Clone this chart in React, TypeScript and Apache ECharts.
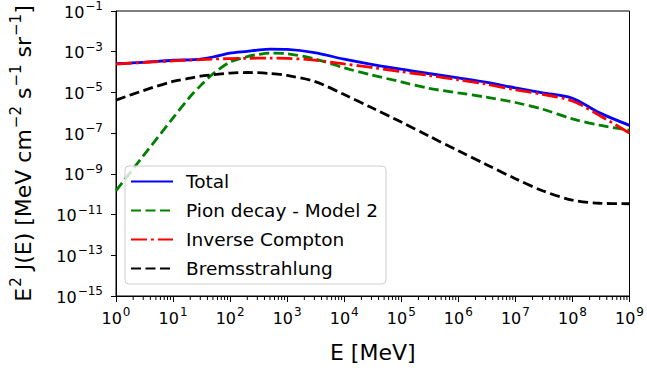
import React, { useEffect, useRef } from 'react';
import * as echarts from 'echarts';

// Energy grid (MeV) and E^2 J(E) values [MeV cm^-2 s^-1 sr^-1]
const energyMeV = [1, 3, 10, 20, 30, 50, 100, 200, 300, 500, 1e3, 3e3, 1e4, 3e4, 1e5, 3e5, 1e6, 3e6, 1e7, 3e7, 1e8, 3e8, 1e9];
const total = [2.6e-4, 3.0e-4, 3.8e-4, 4.0e-4, 4.3e-4, 5.5e-4, 8.5e-4, 1.05e-3, 1.2e-3, 1.33e-3, 1.29e-3, 9.0e-4, 4.3e-4, 2.4e-4, 1.38e-4, 8.5e-5, 5.15e-5, 3.2e-5, 1.67e-5, 9.6e-6, 5.2e-6, 9.9e-7, 2.4e-7];
const pionDecay = [1.5e-10, 7.6e-9, 5.6e-7, 6.3e-6, 2.1e-5, 8.1e-5, 3.1e-4, 5.8e-4, 7.2e-4, 8.5e-4, 7.9e-4, 4.5e-4, 1.6e-4, 7.2e-5, 3.3e-5, 1.6e-5, 9.5e-6, 5.9e-6, 3.2e-6, 1.5e-6, 5.0e-7, 2.45e-7, 1.4e-7];
const inverseCompton = [2.45e-4, 2.95e-4, 3.55e-4, 3.9e-4, 4.1e-4, 4.35e-4, 4.6e-4, 4.7e-4, 4.8e-4, 4.8e-4, 4.7e-4, 3.9e-4, 2.5e-4, 1.7e-4, 1.05e-4, 6.9e-5, 4.2e-5, 2.6e-5, 1.35e-5, 8.1e-6, 3.8e-6, 7.4e-7, 1.0e-7];
const bremsstrahlung = [4.2e-6, 1.23e-5, 3.5e-5, 5.0e-5, 6.3e-5, 7.4e-5, 8.9e-5, 9.5e-5, 9.3e-5, 8.5e-5, 6.8e-5, 3.5e-5, 7.9e-6, 1.8e-6, 3.5e-7, 7.4e-8, 1.35e-8, 3.0e-9, 5.8e-10, 1.48e-10, 5.1e-11, 3.6e-11, 3.4e-11];

const seriesNames = ['Total', 'Pion decay - Model 2', 'Inverse Compton', 'Bremsstrahlung'];

// axis ranges as decade exponents
const X_EXP_MIN = 0;
const X_EXP_MAX = 9;
const Y_EXP_MIN = -15;
const Y_EXP_MAX = -1;
const minorMultipliers = [2, 3, 4, 5, 6, 7, 8, 9];

const FONT = 'DejaVu Sans';

function toPoints(vals: number[]) {
  return energyMeV.map((e, i) => [Math.log10(e), Math.log10(vals[i]) - Y_EXP_MIN]);
}

function sup(n: number) {
  return n < 0 ? '\u2212' + Math.abs(n) : String(n);
}

export default function App() {
  const ref = useRef<HTMLDivElement>(null);

  useEffect(() => {
    if (!ref.current) return;
    const chart = echarts.init(ref.current, null, { renderer: 'svg' });

    const tickRich = {
      b: { fontSize: 16, lineHeight: 18, fontFamily: FONT, color: '#000', verticalAlign: 'bottom' },
      s: { fontSize: 12, lineHeight: 12, fontFamily: FONT, color: '#000', verticalAlign: 'bottom', padding: [0, 0, 8, 1] },
    };

    const minorTicks: number[][] = [];
    for (let d = X_EXP_MIN; d < X_EXP_MAX; d++) {
      for (const m of minorMultipliers) minorTicks.push([d + Math.log10(m), 0]);
    }

    const lineSeries = (name: string, vals: number[], color: string, dash: any, z: number) => ({
      type: 'line',
      name,
      data: toPoints(vals),
      symbol: 'none',
      showSymbol: false,
      smooth: 0.3,
      z,
      itemStyle: { color },
      lineStyle: { color, width: 2.8, type: dash, cap: 'butt' },
    });

    const option: any = {
      animation: false,
      backgroundColor: '#ffffff',
      textStyle: { fontFamily: FONT },
      grid: { left: 115, top: 11, width: 515, height: 285, show: true, borderColor: '#000', borderWidth: 1, backgroundColor: 'transparent' },
      xAxis: {
        type: 'value',
        min: X_EXP_MIN,
        max: X_EXP_MAX,
        interval: 1,
        axisLine: { lineStyle: { color: '#000', width: 1 } },
        axisTick: { length: 6, lineStyle: { color: '#000', width: 1 } },
        splitLine: { show: false },
        axisLabel: {
          margin: 12,
          formatter: (v: number) => `{b|10}{s|${sup(Math.round(v))}}`,
          rich: tickRich,
        },
        name: 'E [MeV]',
        nameLocation: 'middle',
        nameGap: 45,
        nameTextStyle: { fontSize: 22, color: '#000', fontFamily: FONT },
      },
      yAxis: {
        type: 'value',
        min: 0,
        max: Y_EXP_MAX - Y_EXP_MIN,
        interval: 2,
        axisLine: { lineStyle: { color: '#000', width: 1 } },
        axisTick: { length: 5, lineStyle: { color: '#000', width: 1 } },
        splitLine: { show: false },
        axisLabel: {
          margin: 13,
          formatter: (v: number) => `{b|10}{s|${sup(Math.round(v) + Y_EXP_MIN)}}`,
          rich: tickRich,
        },
        name: '{n|E}{p|2}{n| J(E) [MeV cm}{p|\u22122}{n| s}{p|\u22121}{n| sr}{p|\u22121}{n|]}',
        nameLocation: 'middle',
        nameRotate: 90,
        nameGap: 82,
        nameTextStyle: {
          color: '#000',
          rich: {
            n: { fontSize: 22, lineHeight: 24, fontFamily: FONT, color: '#000', verticalAlign: 'bottom' },
            p: { fontSize: 15, lineHeight: 15, fontFamily: FONT, color: '#000', verticalAlign: 'bottom', padding: [0, 0, 11, 1] },
          },
        },
      },
      legend: {
        data: seriesNames,
        orient: 'vertical',
        left: 125,
        top: 166,
        padding: [6, 8, 6, 5],
        itemWidth: 42,
        itemHeight: 14,
        itemGap: 10,
        itemStyle: { opacity: 0 },
        backgroundColor: 'rgba(255,255,255,0.8)',
        borderColor: '#cccccc',
        borderWidth: 1,
        borderRadius: 4,
        textStyle: { fontSize: 18.5, color: '#000', fontFamily: FONT, padding: [0, 0, 0, 8] },
      },
      series: [
        lineSeries(seriesNames[0], total, '#0000ff', 'solid', 2),
        lineSeries(seriesNames[1], pionDecay, '#008000', [10, 4.5], 3),
        lineSeries(seriesNames[2], inverseCompton, '#ff0000', [16, 4, 2.8, 4], 4),
        lineSeries(seriesNames[3], bremsstrahlung, '#000000', [10, 4.5], 5),
        {
          type: 'custom',
          name: 'minorTicks',
          silent: true,
          clip: false,
          data: minorTicks,
          renderItem: (params: any, api: any) => {
            const p = api.coord([api.value(0), 0]);
            return {
              type: 'line',
              shape: { x1: p[0], y1: p[1], x2: p[0], y2: p[1] + 4 },
              style: { stroke: '#000', lineWidth: 1 },
            };
          },
        },
      ],
    };

    chart.setOption(option);
    return () => chart.dispose();
  }, []);

  return (
    <div
      ref={ref}
      style={{ position: 'absolute', left: 0, top: 0, width: 647, height: 376, background: '#fff' }}
    />
  );
}
